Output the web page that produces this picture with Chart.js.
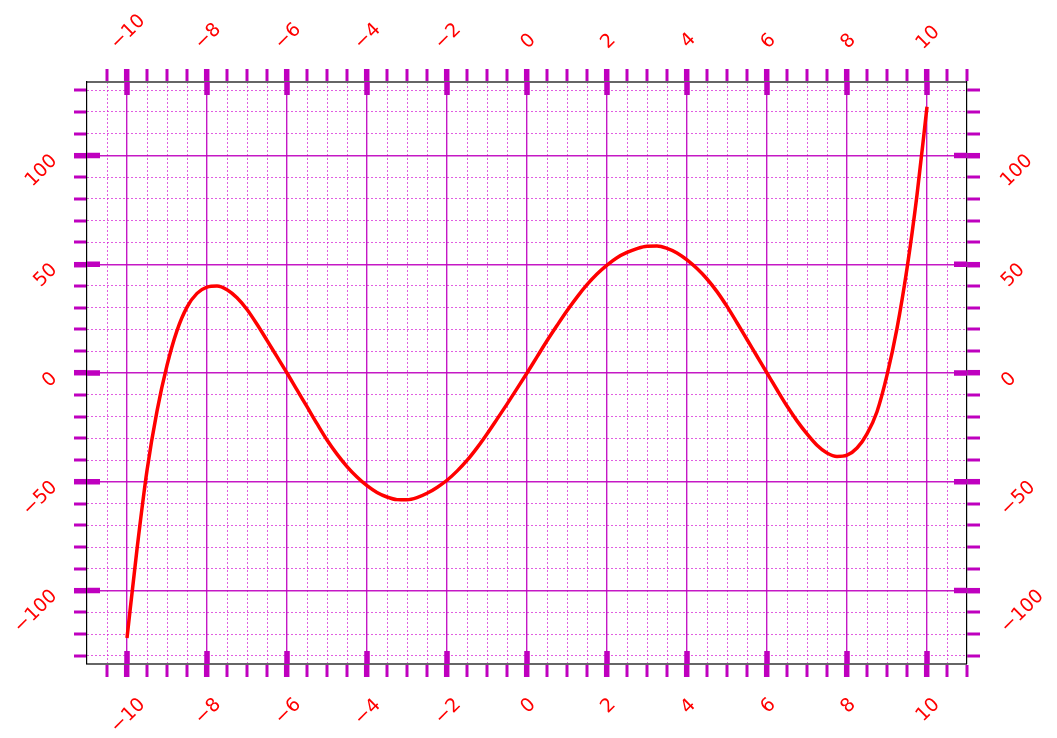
<!DOCTYPE html>
<html><head><meta charset="utf-8">
<script src="https://cdn.jsdelivr.net/npm/chart.js@4.4.1/dist/chart.umd.min.js"></script>
<style>html,body{margin:0;padding:0;background:#fff;}canvas{display:block;}</style>
</head><body>
<canvas id="c" width="1057" height="738"></canvas>
<script>
// ---- data ----
const X_VALUES = [-10,-9.75,-9.5,-9.25,-9,-8.75,-8.5,-8.25,-8,-7.75,-7.5,-7.25,-7,-6.75,-6.5,-6.25,-6,-5.75,-5.5,-5.25,-5,-4.75,-4.5,-4.25,-4,-3.75,-3.5,-3.25,-3,-2.75,-2.5,-2.25,-2,-1.75,-1.5,-1.25,-1,-0.75,-0.5,-0.25,0,0.25,0.5,0.75,1,1.25,1.5,1.75,2,2.25,2.5,2.75,3,3.25,3.5,3.75,4,4.25,4.5,4.75,5,5.25,5.5,5.75,6,6.25,6.5,6.75,7,7.25,7.5,7.75,8,8.25,8.5,8.75,9,9.25,9.5,9.75,10];
const Y_VALUES = [-121.8,-81,-44.8,-17.5,3.5,19.5,30.3,36.6,39.5,40,38.3,34.6,29.2,22.4,15,7.5,0,-7.8,-15.5,-23.3,-30.8,-37.3,-43,-47.8,-51.8,-54.9,-57,-58.2,-58.3,-57.3,-55.3,-52.6,-49.3,-45.1,-40.2,-34.4,-28,-21.2,-14.3,-7.2,0,7.4,14.8,21.8,28.6,34.9,40.6,45.5,49.6,53,55.4,57.2,58.3,58.4,57.3,55.2,52,48,43.2,37.4,30.6,23.1,15.4,7.7,0,-7.7,-15.2,-22,-28,-33.2,-36.8,-38.4,-37.8,-34.5,-28,-17.8,-1,20.5,48,81.8,122.4];
const X_RANGE = [-11, 11];
const Y_RANGE = [-133.75, 133.75];
const X_MAJOR_TICKS = [-10,-8,-6,-4,-2,0,2,4,6,8,10];
const X_MINOR_TICKS = [-10.5,-9.5,-9,-8.5,-7.5,-7,-6.5,-5.5,-5,-4.5,-3.5,-3,-2.5,-1.5,-1,-0.5,0.5,1,1.5,2.5,3,3.5,4.5,5,5.5,6.5,7,7.5,8.5,9,9.5,10.5,11];
const X_TICK_LABELS = ['\u221210','\u22128','\u22126','\u22124','\u22122','0','2','4','6','8','10'];
const Y_MAJOR_TICKS = [-100,-50,0,50,100];
const Y_MINOR_TICKS = [-130,-120,-110,-90,-80,-70,-60,-40,-30,-20,-10,10,20,30,40,60,70,80,90,110,120,130];
const Y_TICK_LABELS = ['\u2212100','\u221250','0','50','100'];

// ---- styles ----
const TICK_COLOR = '#bf00bf';
const MAJOR_GRID = 'rgba(191,0,191,0.9)';
const MINOR_GRID = 'rgba(215,40,215,0.75)';
const LABEL_COLOR = '#ff0000';
const LABEL_FONT = '19px "DejaVu Sans"';
const TICK_LEN = 13, MAJOR_TW = 5.5, MINOR_TW = 3;

const near = (v, arr) => arr.some(a => Math.abs(a - v) < 1e-9);
const tickVal = c => (c && c.tick) ? c.tick.value : NaN;
const byNum = (a, b) => a - b;
const X_ALL = X_MAJOR_TICKS.concat(X_MINOR_TICKS).sort(byNum);
const Y_ALL = Y_MAJOR_TICKS.concat(Y_MINOR_TICKS).sort(byNum);
const setTicks = list => scale => { scale.ticks = list.map(v => ({value: v})); };

function tickScale(pos, range, list, majors, borderColor, borderWidth, onArea) {
  return {
    type: 'linear', position: pos, min: range[0], max: range[1],
    afterBuildTicks: setTicks(list),
    ticks: {display: false, autoSkip: false},
    grid: {
      drawOnChartArea: onArea,
      color: c => near(tickVal(c), majors) ? MAJOR_GRID : 'rgba(0,0,0,0)',
      lineWidth: c => near(tickVal(c), majors) ? 1.4 : 0,
      drawTicks: true, tickLength: TICK_LEN, tickColor: TICK_COLOR,
      tickWidth: c => near(tickVal(c), majors) ? MAJOR_TW : MINOR_TW
    },
    border: {display: true, color: borderColor, width: borderWidth}
  };
}
function minorGrid(pos, range, list) {
  return {
    type: 'linear', position: pos, min: range[0], max: range[1],
    afterBuildTicks: setTicks(list),
    ticks: {display: false, autoSkip: false},
    grid: {drawTicks: false, color: MINOR_GRID, lineWidth: 1},
    border: {display: false, dash: [2, 2]}
  };
}

function rotLabel(ctx, text, mode, px, py) {
  ctx.textAlign = 'left'; ctx.textBaseline = 'alphabetic';
  const m = ctx.measureText(text);
  const l = -m.actualBoundingBoxLeft, r = m.actualBoundingBoxRight;
  const t = -m.actualBoundingBoxAscent, b = m.actualBoundingBoxDescent;
  const k = Math.SQRT1_2;
  const pts = [[l,t],[r,t],[l,b],[r,b]].map(([x,y]) => [k*(x+y), k*(y-x)]);
  const minX = Math.min(...pts.map(p=>p[0])), maxX = Math.max(...pts.map(p=>p[0]));
  const minY = Math.min(...pts.map(p=>p[1])), maxY = Math.max(...pts.map(p=>p[1]));
  let ax, ay;
  if (mode === 'bottom') { ax = px - (minX + maxX) / 2; ay = py - minY; }
  else if (mode === 'top') { ax = px - (minX + maxX) / 2; ay = py - maxY; }
  else if (mode === 'left') { ax = px - maxX; ay = py - minY; }
  else { ax = px - minX; ay = py - minY; }
  ctx.save(); ctx.translate(ax, ay); ctx.rotate(-Math.PI / 4); ctx.fillText(text, 0, 0); ctx.restore();
}

const decor = {
  id: 'decor',
  beforeDatasetsDraw(chart) {
    const {ctx, chartArea: a, scales} = chart;
    ctx.save();
    ctx.strokeStyle = TICK_COLOR; ctx.lineWidth = MAJOR_TW; ctx.lineCap = 'butt';
    ctx.beginPath();
    X_MAJOR_TICKS.forEach(v => {
      const p = scales.x.getPixelForValue(v);
      ctx.moveTo(p, a.top); ctx.lineTo(p, a.top + TICK_LEN);
      ctx.moveTo(p, a.bottom); ctx.lineTo(p, a.bottom - TICK_LEN);
    });
    Y_MAJOR_TICKS.forEach(v => {
      const p = scales.y.getPixelForValue(v);
      ctx.moveTo(a.left, p); ctx.lineTo(a.left + TICK_LEN, p);
      ctx.moveTo(a.right, p); ctx.lineTo(a.right - TICK_LEN, p);
    });
    ctx.stroke(); ctx.restore();
  },
  afterDraw(chart) {
    const {ctx, chartArea: a, scales} = chart;
    ctx.save(); ctx.font = LABEL_FONT; ctx.fillStyle = LABEL_COLOR;
    X_MAJOR_TICKS.forEach((v, i) => {
      const p = scales.x.getPixelForValue(v);
      rotLabel(ctx, X_TICK_LABELS[i], 'bottom', p, a.bottom + 32);
      rotLabel(ctx, X_TICK_LABELS[i], 'top', p, a.top - 33.5);
    });
    Y_MAJOR_TICKS.forEach((v, i) => {
      const p = scales.y.getPixelForValue(v);
      rotLabel(ctx, Y_TICK_LABELS[i], 'left', a.left - 30, p - 3);
      rotLabel(ctx, Y_TICK_LABELS[i], 'right', a.right + 32, p - 3);
    });
    ctx.restore();
  }
};

new Chart(document.getElementById('c'), {
  type: 'line',
  data: {
    datasets: [{
      data: X_VALUES.map((x, i) => ({x: x, y: Y_VALUES[i]})),
      borderColor: '#ff0000', borderWidth: 3.5, pointRadius: 0,
      cubicInterpolationMode: 'monotone', fill: false,
      xAxisID: 'x', yAxisID: 'y'
    }]
  },
  options: {
    responsive: false, animation: false,
    layout: {padding: {left: 74, right: 77, top: 69, bottom: 61}},
    plugins: {legend: {display: false}, tooltip: {enabled: false}},
    scales: {
      xMinor: minorGrid('bottom', X_RANGE, X_MINOR_TICKS.filter(v => v < X_RANGE[1])),
      yMinor: minorGrid('left', Y_RANGE, Y_MINOR_TICKS),
      x: tickScale('bottom', X_RANGE, X_ALL, X_MAJOR_TICKS, '#666666', 2, true),
      xTop: tickScale('top', X_RANGE, X_ALL, X_MAJOR_TICKS, '#666666', 2, false),
      y: tickScale('left', Y_RANGE, Y_ALL, Y_MAJOR_TICKS, '#000000', 1.2, true),
      yRight: tickScale('right', Y_RANGE, Y_ALL, Y_MAJOR_TICKS, '#000000', 1.2, false)
    }
  },
  plugins: [decor]
});
</script>
</body></html>
